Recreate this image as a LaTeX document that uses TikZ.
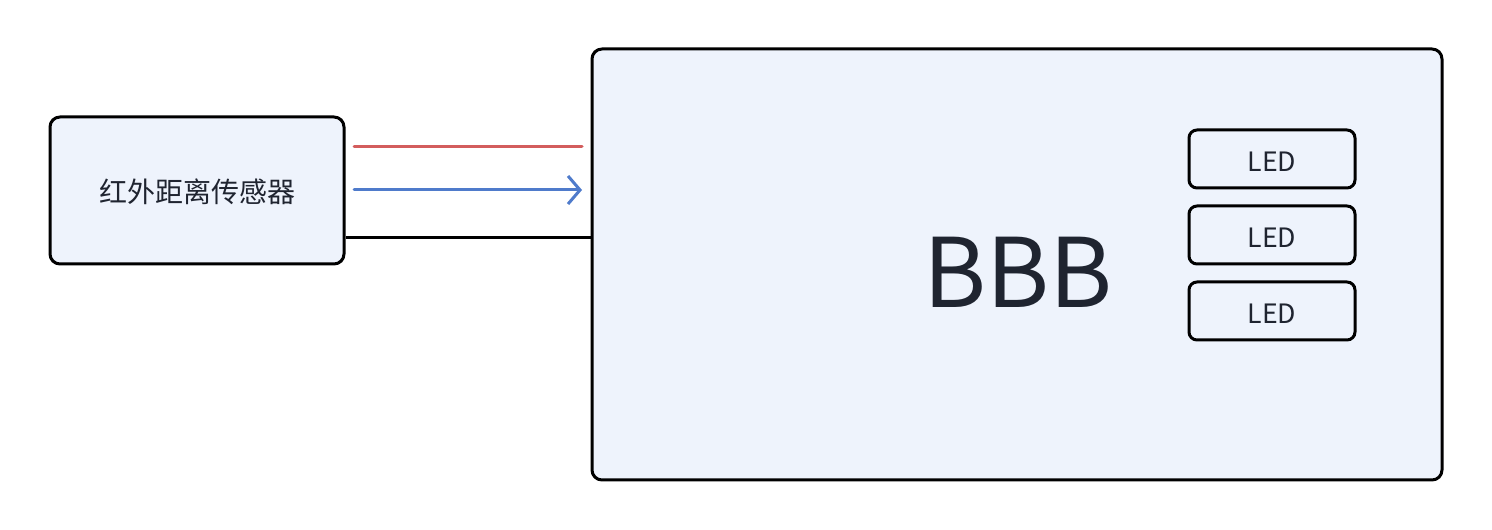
\documentclass[tikz,border=0pt]{standalone}
\usepackage{fontspec}
\setmainfont{Noto Sans CJK SC}
\usetikzlibrary{arrows.meta,positioning}
\definecolor{boxfill}{HTML}{EEF3FC}
\definecolor{inkc}{HTML}{1F2430}
\definecolor{redw}{HTML}{D35D5D}
\definecolor{bluew}{HTML}{4F7BCB}

\begin{document}
\begin{tikzpicture}[x=0.75pt,y=-0.75pt,>={Straight Barb[length=9pt,width=21pt]},
 blk/.style={draw=black,line width=2.25pt,fill=boxfill,rounded corners=7.5pt,
   text=inkc,inner sep=0pt},
 led/.style={blk,rounded corners=6pt,minimum width=124.5pt,minimum height=43.5pt,
   text height=19.5pt,text depth=0pt,font=\fontsize{20}{22}\selectfont},
 wire/.style={line width=2.25pt,line cap=round}]
\useasboundingbox (0,0) rectangle (1492,530);
\node[blk,minimum width=220.5pt,minimum height=110.25pt,text height=18.2pt,
  text depth=0pt,font=\fontsize{21}{24}\selectfont] (sensor) at (197,190.5) {红外距离传感器};
\node[blk,minimum width=637.5pt,minimum height=323.25pt] (board) at (1017,264.5) {};
\node[text=inkc,font=\fontsize{72}{80}\selectfont] (bbb) at (1018,272) {BBB};
\node[led] (led1) at (1272,159) {LED};
\node[led] (led2) at (1272,235) {LED};
\node[led] (led3) at (1272,311) {LED};
\coordinate (r0) at (354,147); \coordinate (r1) at (582,147);
\coordinate (b0) at (354,190); \coordinate (b1) at (582,190);
\draw[wire,redw] (r0)--(r1);
\draw[wire,bluew,->] (b0)--(b1);
\draw[line width=2.25pt] (sensor.east |- 0,238)--(board.west |- 0,238);
\end{tikzpicture}
\end{document}
